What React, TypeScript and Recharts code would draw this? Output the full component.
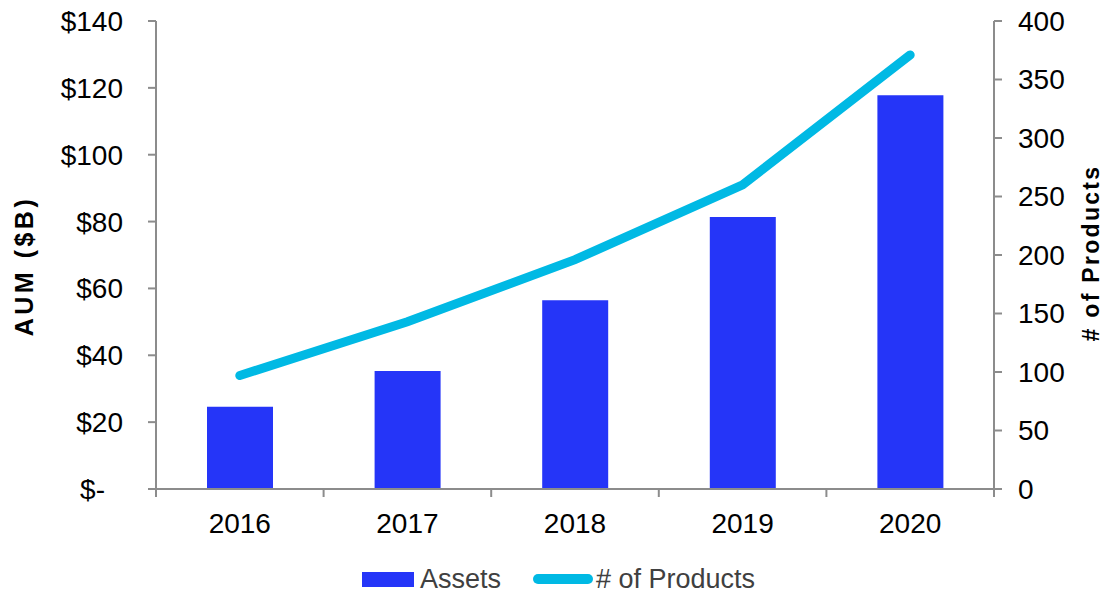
import { ComposedChart, Bar, Line, XAxis, YAxis, Legend } from "recharts"

const years = ["2016", "2017", "2018", "2019", "2020"]
const assets = [24.6, 35.3, 56.5, 81.4, 117.8]
const products = [97, 143, 196, 260, 371]
const aumTicks = [0, 20, 40, 60, 80, 100, 120, 140]
const productTicks = [0, 50, 100, 150, 200, 250, 300, 350, 400]

const data = years.map((year, i) => ({ year, assets: assets[i], products: products[i] }))

const AXIS = "#8c8c8c"
const FONT = "'Liberation Sans', Arial, Helvetica, sans-serif"
const BAR = "#2535f8"
const LINE = "#00b9e4"

// category ticks sit between the years, like the Excel original
function YearTick(props: any) {
  const { x, y, payload, index, visibleTicksCount } = props
  const half = payload.offset || 83.8
  const top = y - 24
  const last = index === visibleTicksCount - 1 || payload.value === years[years.length - 1]
  return (
    <g>
      <line x1={x - half} x2={x - half} y1={top} y2={top + 8} stroke={AXIS} strokeWidth={2} />
      {last && <line x1={x + half} x2={x + half} y1={top} y2={top + 8} stroke={AXIS} strokeWidth={2} />}
      <text x={x} y={y} dy="0.71em" textAnchor="middle" fontFamily={FONT} fontSize={28} fill="#000">
        {payload.value}
      </text>
    </g>
  )
}

function AumTick(props: any) {
  const { x, y, payload } = props
  const zero = payload.value === 0
  return (
    <text x={zero ? x - 18 : x} y={y} dy="0.355em" textAnchor="end" fontFamily={FONT} fontSize={28} fill="#000">
      {zero ? "$-" : `$${payload.value}`}
    </text>
  )
}

function ProductTick(props: any) {
  const { x, y, payload } = props
  return (
    <text x={x} y={y} dy="0.355em" textAnchor="start" fontFamily={FONT} fontSize={28} fill="#000">
      {payload.value}
    </text>
  )
}

function LeftTitle(props: any) {
  const vb = props.viewBox || { x: 0, y: 21, width: 156, height: 468 }
  const cx = vb.x + 24
  const cy = vb.y + vb.height / 2 + 11
  return (
    <text
      x={cx}
      y={cy}
      transform={`rotate(-90, ${cx}, ${cy})`}
      textAnchor="middle"
      dominantBaseline="central"
      fontFamily={FONT}
      fontWeight="bold"
      fontSize={25}
      letterSpacing={3.5}
      fill="#000"
    >
      AUM ($B)
    </text>
  )
}

function RightTitle(props: any) {
  const vb = props.viewBox || { x: 994, y: 21, width: 111, height: 468 }
  const cx = vb.x + vb.width - 14
  const cy = vb.y + vb.height / 2 - 2
  return (
    <text
      x={cx}
      y={cy}
      transform={`rotate(-90, ${cx}, ${cy})`}
      textAnchor="middle"
      dominantBaseline="central"
      fontFamily={FONT}
      fontWeight="bold"
      fontSize={23}
      letterSpacing={2.3}
      fill="#000"
    >
      # of Products
    </text>
  )
}

function LegendContent(props: any) {
  // bars first, then the line, as in the original
  const payload = [...(props.payload || [])].sort((a: any, b: any) => (a.type === "line" ? 1 : 0) - (b.type === "line" ? 1 : 0))
  return (
    <div
      style={{
        display: "flex",
        alignItems: "center",
        height: 28,
        paddingLeft: 362,
        fontFamily: FONT,
        fontSize: 27,
        lineHeight: "28px",
        color: "#404040",
      }}
    >
      {payload.map((entry: any, i: number) =>
        entry.type === "line" ? (
          <span key={i} style={{ display: "flex", alignItems: "center" }}>
            <svg width={60} height={12} style={{ marginRight: 3 }}>
              <line x1={5} x2={55} y1={6} y2={6} stroke={entry.color} strokeWidth={10} strokeLinecap="round" />
            </svg>
            {entry.value}
          </span>
        ) : (
          <span key={i} style={{ display: "flex", alignItems: "center", marginRight: 32 }}>
            <span style={{ display: "inline-block", width: 52, height: 15, background: entry.color, marginRight: 6 }} />
            {entry.value}
          </span>
        )
      )}
    </div>
  )
}

export default function App() {
  return (
    <div style={{ position: "absolute", left: 0, top: 0, background: "#fff" }}>
      <ComposedChart width={1105} height={593} data={data} margin={{ top: 21, right: 0, bottom: 0, left: 0 }}>
        <XAxis
          dataKey="year"
          height={76}
          axisLine={{ stroke: AXIS, strokeWidth: 2 }}
          tickLine={false}
          tickSize={0}
          tickMargin={24}
          tick={<YearTick />}
          interval={0}
        />
        <YAxis
          yAxisId="left"
          width={156}
          domain={[0, 140]}
          ticks={aumTicks}
          interval={0}
          axisLine={{ stroke: AXIS, strokeWidth: 2 }}
          tickLine={{ stroke: AXIS, strokeWidth: 2 }}
          tickSize={8}
          tickMargin={25}
          tick={<AumTick />}
          label={<LeftTitle />}
        />
        <YAxis
          yAxisId="right"
          orientation="right"
          width={111}
          domain={[0, 400]}
          ticks={productTicks}
          interval={0}
          axisLine={{ stroke: AXIS, strokeWidth: 2 }}
          tickLine={{ stroke: AXIS, strokeWidth: 2 }}
          tickSize={8}
          tickMargin={16}
          tick={<ProductTick />}
          label={<RightTitle />}
        />
        <Legend verticalAlign="bottom" content={<LegendContent />} />
        <Bar yAxisId="left" dataKey="assets" name="Assets" fill={BAR} barSize={66} isAnimationActive={false} />
        <Line
          yAxisId="right"
          dataKey="products"
          name="# of Products"
          type="linear"
          stroke={LINE}
          strokeWidth={9}
          strokeLinecap="round"
          dot={false}
          activeDot={false}
          legendType="line"
          isAnimationActive={false}
        />
      </ComposedChart>
    </div>
  )
}
